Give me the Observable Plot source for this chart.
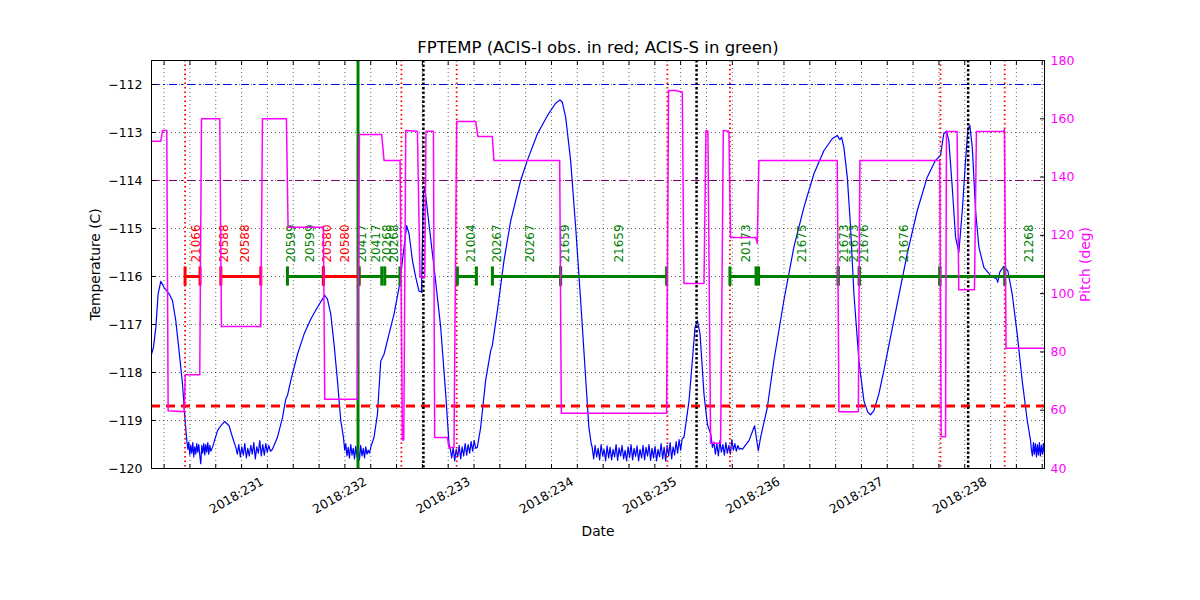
<!DOCTYPE html>
<html><head><meta charset="utf-8">
<script src="https://cdn.jsdelivr.net/npm/d3@7"></script>
<script src="https://cdn.jsdelivr.net/npm/@observablehq/plot@0.6"></script>
<style>body{margin:0;background:#fff}</style>
</head><body><div id="chart"></div>
<script>
// ---- data ----
const fptemp = [
[229.878,-117.62],[229.897,-117.48],[229.920,-117.06],[229.942,-116.36],[229.968,-116.10],[230.000,-116.23],[230.048,-116.36],[230.081,-116.50],[230.113,-116.92],[230.145,-117.55],[230.178,-118.24],[230.203,-119.00],[230.220,-119.42],
[230.230,-119.60],[230.239,-119.45],[230.249,-119.72],[230.258,-119.52],[230.268,-119.68],[230.278,-119.46],[230.287,-119.76],[230.297,-119.55],[230.307,-119.70],[230.316,-119.48],[230.326,-119.66],[230.336,-119.50],[230.346,-119.74],[230.355,-119.90],[230.365,-119.52],[230.374,-119.68],[230.384,-119.48],[230.394,-119.72],[230.403,-119.50],[230.413,-119.66],[230.423,-119.46],[230.432,-119.70],[230.442,-119.52],[230.452,-119.64],
[230.468,-119.56],[230.517,-119.21],[230.549,-119.11],[230.587,-119.02],[230.629,-119.11],[230.662,-119.35],[230.694,-119.56],
[230.709,-119.70],[230.723,-119.50],[230.738,-119.76],[230.752,-119.55],[230.767,-119.72],[230.781,-119.48],[230.796,-119.78],[230.810,-119.58],[230.825,-119.74],[230.839,-119.52],[230.854,-119.70],[230.868,-119.46],[230.883,-119.80],[230.897,-119.55],[230.912,-119.68],[230.926,-119.42],[230.941,-119.74],[230.955,-119.50],[230.970,-119.72],[230.984,-119.48],[230.999,-119.66],[231.013,-119.52],[231.030,-119.64],
[231.049,-119.60],[231.097,-119.35],[231.146,-118.94],[231.178,-118.55],[231.194,-118.48],[231.226,-118.17],[231.291,-117.62],[231.355,-117.20],[231.419,-116.89],[231.484,-116.64],[231.533,-116.47],[231.555,-116.39],[231.581,-116.47],[231.613,-116.78],[231.645,-117.41],[231.678,-118.17],[231.710,-119.00],[231.736,-119.35],
[231.748,-119.62],[231.758,-119.48],[231.770,-119.74],[231.782,-119.56],[231.794,-119.78],[231.807,-119.50],[231.819,-119.72],[231.831,-119.58],[231.843,-119.80],[231.855,-119.54],[231.867,-119.76],[231.879,-119.60],[231.891,-119.82],[231.903,-119.52],[231.916,-119.74],[231.928,-119.58],[231.940,-119.78],[231.952,-119.55],[231.964,-119.70],[231.976,-119.62],[231.988,-119.68],
[232.000,-119.56],[232.032,-119.35],[232.065,-118.87],[232.097,-117.76],[232.129,-117.62],[232.177,-117.20],[232.226,-116.78],[232.274,-116.23],[232.307,-115.67],[232.348,-114.94],[232.371,-115.11],[232.404,-115.67],[232.436,-116.02],[232.467,-116.30],[232.491,-116.33],[232.510,-114.28],[232.523,-114.14],[232.549,-114.63],[232.613,-115.81],[232.677,-117.05],[232.726,-118.45],[232.758,-119.49],
[232.772,-119.62],[232.784,-119.78],[232.798,-119.56],[232.813,-119.84],[232.827,-119.60],[232.842,-119.76],[232.856,-119.52],[232.871,-119.80],[232.885,-119.55],[232.900,-119.74],[232.914,-119.48],[232.929,-119.72],[232.943,-119.50],[232.958,-119.68],[232.972,-119.44],[232.987,-119.64],[233.001,-119.42],[233.016,-119.58],
[233.032,-119.56],[233.064,-119.15],[233.112,-118.17],[233.161,-117.55],[233.177,-117.44],[233.226,-116.71],[233.290,-115.67],[233.355,-114.84],[233.451,-114.00],[233.516,-113.58],[233.613,-113.03],[233.710,-112.65],[233.790,-112.39],[233.832,-112.32],[233.855,-112.37],[233.887,-112.68],[233.935,-113.58],[233.984,-114.98],[234.032,-116.50],[234.080,-118.10],[234.112,-119.15],[234.135,-119.49],
[234.143,-119.55],[234.158,-119.80],[234.172,-119.52],[234.187,-119.76],[234.201,-119.58],[234.216,-119.82],[234.230,-119.50],[234.245,-119.74],[234.259,-119.60],[234.274,-119.84],[234.288,-119.53],[234.303,-119.78],[234.317,-119.56],[234.332,-119.82],[234.346,-119.60],[234.361,-119.76],[234.375,-119.50],[234.390,-119.83],[234.404,-119.57],[234.419,-119.74],[234.433,-119.52],[234.448,-119.80],[234.462,-119.62],[234.477,-119.84],[234.491,-119.55],[234.506,-119.77],[234.520,-119.50],[234.535,-119.82],[234.549,-119.58],[234.564,-119.75],[234.578,-119.53],[234.593,-119.84],[234.607,-119.60],[234.622,-119.78],[234.636,-119.52],[234.651,-119.82],[234.665,-119.56],[234.680,-119.74],[234.694,-119.50],[234.709,-119.83],[234.723,-119.58],[234.738,-119.78],[234.752,-119.54],[234.767,-119.84],[234.781,-119.60],[234.796,-119.76],[234.811,-119.48],[234.826,-119.80],[234.840,-119.56],[234.855,-119.84],[234.869,-119.52],[234.884,-119.74],[234.898,-119.46],[234.913,-119.80],[234.927,-119.55],[234.942,-119.72],[234.956,-119.44],[234.971,-119.68],[234.985,-119.40],[235.000,-119.62],[235.015,-119.38],
[235.032,-119.35],[235.081,-118.59],[235.113,-117.76],[235.139,-117.06],[235.162,-116.92],[235.188,-117.20],[235.226,-118.45],[235.259,-119.08],[235.291,-119.28],[235.308,-119.56],
[235.322,-119.45],[235.336,-119.70],[235.351,-119.48],[235.365,-119.74],[235.380,-119.42],[235.394,-119.66],[235.409,-119.50],[235.423,-119.72],[235.438,-119.46],[235.452,-119.68],[235.467,-119.52],[235.481,-119.70],[235.496,-119.40],[235.510,-119.62],[235.525,-119.48],[235.539,-119.64],[235.554,-119.52],[235.568,-119.60],[235.583,-119.58],
[235.597,-119.60],[235.661,-119.42],[235.716,-119.11],[235.742,-119.49],[235.752,-119.63],[235.774,-119.35],[235.839,-118.73],[235.902,-117.76],[235.999,-116.50],[236.096,-115.39],[236.193,-114.56],[236.290,-113.86],[236.386,-113.38],[236.467,-113.13],[236.516,-113.06],[236.541,-113.15],[236.558,-113.10],[236.580,-113.31],[236.613,-113.93],[236.645,-114.98],[236.677,-116.36],[236.726,-117.76],[236.774,-118.59],[236.812,-118.83],[236.838,-118.88],[236.870,-118.80],[236.918,-118.45],[236.967,-117.96],[237.031,-117.27],[237.096,-116.57],[237.193,-115.53],[237.290,-114.63],[237.387,-113.93],[237.467,-113.58],[237.515,-113.48],[237.547,-113.03],[237.573,-112.97],[237.596,-113.17],[237.629,-114.14],[237.661,-115.18],[237.693,-115.50],[237.726,-114.63],[237.758,-113.58],[237.780,-112.96],[237.799,-112.85],[237.823,-113.31],[237.855,-114.63],[237.887,-115.39],[237.935,-115.81],[238.000,-115.98],[238.058,-116.05],[238.070,-116.12],[238.089,-115.91],[238.128,-115.79],[238.167,-115.88],[238.209,-116.36],[238.258,-117.20],[238.306,-118.17],[238.355,-119.00],[238.387,-119.42],
[238.396,-119.62],[238.405,-119.74],[238.415,-119.46],[238.424,-119.70],[238.434,-119.48],[238.444,-119.76],[238.453,-119.50],[238.463,-119.72],[238.473,-119.46],[238.482,-119.74],[238.492,-119.52],[238.502,-119.70],[238.512,-119.48],[238.522,-119.72]
];

const pitch = [
[229.878,152.3],[229.968,152.3],[229.985,156.0],[230.026,156.0],[230.039,59.8],[230.194,59.5],[230.205,72.2],[230.345,72.2],[230.362,160.0],[230.539,160.0],[230.555,88.7],[230.936,88.7],[230.952,160.0],[231.184,160.0],[231.200,122.8],[231.542,122.8],[231.555,63.8],[231.871,63.8],[231.891,154.6],[232.106,154.6],[232.129,145.7],[232.284,145.7],[232.307,49.8],[232.320,49.8],[232.339,156.0],[232.452,155.7],[232.477,105.6],[232.523,105.6],[232.535,155.7],[232.607,155.7],[232.619,50.6],[232.742,50.6],[232.758,47.2],[232.806,47.2],[232.832,159.1],[233.016,159.1],[233.038,153.9],[233.177,153.9],[233.193,145.7],[233.829,145.7],[233.845,59.0],[234.864,59.0],[234.883,169.7],[234.950,169.7],[235.016,169.2],[235.032,103.5],[235.226,103.5],[235.245,156.0],[235.264,155.7],[235.290,48.7],[235.387,48.7],[235.413,156.0],[235.467,155.7],[235.483,119.3],[235.725,119.3],[235.742,117.3],[235.757,145.7],[236.516,145.7],[236.532,59.5],[236.720,59.5],[236.735,145.7],[237.508,145.7],[237.522,50.9],[237.564,50.9],[237.573,155.6],[237.676,155.6],[237.692,101.3],[237.844,101.3],[237.863,155.6],[238.121,155.6],[238.134,156.3],[238.150,81.3],[238.522,81.3]
];

// observations: obsid, start, stop, instrument (I = red, S = green)
const obsIds   = ["21066","20588","20599","20580","20417","20268","21004","20267","21659","20173","21675","21673","21676","21268"];
const obsStart = [230.203,230.549,231.194,231.542,231.887,232.136,232.839,233.178,233.838,235.477,235.754,236.525,236.729,237.509];
const obsStop  = [230.348,230.936,231.542,231.887,232.107,232.283,233.023,233.838,234.864,235.730,236.525,236.729,237.509,238.75];
const obsInstr = ["I","I","S","I","S","S","S","S","S","S","S","S","S","S"];
const extraMarks = [238.137]; // segment break inside last ACIS-S interval

// obsid labels (x position in day, obsid, instrument)
const labelDay   = [230.307,230.581,230.781,231.233,231.410,231.581,231.748,231.920,232.048,232.155,232.225,232.968,233.226,233.548,233.880,234.403,235.638,236.177,236.580,236.676,236.773,237.160,238.370];
const labelText  = ["21066","20588","20588","20599","20599","20580","20580","20417","20417","20268","20268","21004","20267","20267","21659","21659","20173","21675","21673","21673","21676","21676","21268"];
const labelInstr = ["I","I","I","S","S","I","I","S","S","S","S","S","S","S","S","S","S","S","S","S","S","S","S"];

const radZone   = [230.203,232.297,232.832,234.871,235.477,237.515,238.137]; // red dotted
const perigee   = [232.510,235.154,237.783];                                 // black dotted
const nowLine   = [231.877];                                                  // green solid

const planLimit = -112.0, acisLimit = -114.0, coldLimit = -118.7, obsLevel = -116.0;

const tempTicks  = [-120,-119,-118,-117,-116,-115,-114,-113,-112];
const pitchTicks = [40,60,80,100,120,140,160,180];
const dayTicks   = [231,232,233,234,235,236,237,238];
const quarterTicks = [];
for (let d = 230; d <= 238.5; d += 0.25) quarterTicks.push(d);

const xDomain = [229.878, 238.522];
const tDomain = [-120, -111.5];
const pDomain = [40, 180];
const toT = p => tDomain[0] + (p - pDomain[0]) * (tDomain[1] - tDomain[0]) / (pDomain[1] - pDomain[0]);
const fromT = t => pDomain[0] + (t - tDomain[0]) * (pDomain[1] - pDomain[0]) / (tDomain[1] - tDomain[0]);

const colI = "#ff0000", colS = "#008000", magenta = "#ff00ff";
const obs = obsIds.map((id, i) => ({id, start: obsStart[i], stop: obsStop[i], color: obsInstr[i] === "I" ? colI : colS}));
const marks = [];
obs.forEach(o => { marks.push({x: o.start, color: o.color}); marks.push({x: o.stop, color: o.color}); });
extraMarks.forEach(x => marks.push({x, color: colS}));
const labels = labelDay.map((d, i) => ({x: d, text: labelText[i], color: labelInstr[i] === "I" ? colI : colS}));
const minus = d => d < 0 ? "\u2212" + Math.abs(d) : String(d);

const chart = Plot.plot({
  width: 1200, height: 600,
  marginLeft: 151, marginRight: 156, marginTop: 60, marginBottom: 132,
  style: {fontFamily: "'DejaVu Sans', sans-serif", fontSize: "12.5px", background: "white", color: "black"},
  x: {domain: xDomain, label: null},
  y: {domain: tDomain, label: null},
  marks: [
    Plot.gridY(tempTicks, {stroke: "black", strokeOpacity: 0.75, strokeDasharray: "1,3", strokeWidth: 0.8}),
    Plot.gridX(quarterTicks, {stroke: "black", strokeOpacity: 0.75, strokeDasharray: "1,3", strokeWidth: 0.8}),
    Plot.line(fptemp, {x: d => d[0], y: d => d[1], stroke: "#0000ff", strokeWidth: 1.2}),
    Plot.ruleY([planLimit], {stroke: "#0000ff", strokeWidth: 1.2, strokeDasharray: "8,4,2,4"}),
    Plot.ruleY([acisLimit], {stroke: "#800080", strokeWidth: 1.2, strokeDasharray: "8,4,2,4"}),
    Plot.ruleY([coldLimit], {stroke: "#ff0000", strokeWidth: 3, strokeDasharray: "9,6"}),
    Plot.ruleX(radZone, {stroke: "#ff0000", strokeWidth: 1.8, strokeDasharray: "1.5,3"}),
    Plot.ruleX(perigee, {stroke: "black", strokeWidth: 2.5, strokeDasharray: "2.5,2"}),
    Plot.ruleX(nowLine, {stroke: "#008000", strokeWidth: 3}),
    Plot.ruleY(obs, {y: obsLevel, x1: "start", x2: "stop", stroke: "color", strokeWidth: 3, clip: true}),
    Plot.ruleX(marks, {x: "x", y1: obsLevel - 0.2, y2: obsLevel + 0.2, stroke: "color", strokeWidth: 3, clip: true}),
    Plot.text(labels, {x: "x", y: obsLevel + 0.29, text: "text", fill: "color", rotate: -90, textAnchor: "start", fontSize: 12}),
    Plot.line(pitch, {x: d => d[0], y: d => toT(d[1]), stroke: magenta, strokeWidth: 1.5}),
    Plot.frame({stroke: "black", strokeWidth: 1}),
    Plot.axisY(tempTicks, {anchor: "left", tickSize: -5, tickFormat: minus, label: null}),
    Plot.axisY(pitchTicks.map(toT), {anchor: "right", tickSize: -5, tickPadding: 11, tickFormat: t => String(Math.round(fromT(t))), fill: magenta, stroke: "black", label: null}),
    Plot.axisX(quarterTicks, {anchor: "bottom", tickSize: -4, tickFormat: () => "", label: null}),
    Plot.axisX(quarterTicks, {anchor: "top", tickSize: -4, tickFormat: () => "", label: null}),
    Plot.axisX(dayTicks, {anchor: "bottom", tickSize: 0, tickPadding: 12, dx: -5, tickRotate: -30, tickFormat: d => "2018:" + d, label: null, fontSize: 12.5}),
    Plot.text(["FPTEMP (ACIS-I obs. in red; ACIS-S in green)"], {text: d => d, frameAnchor: "top", dy: -13, lineAnchor: "middle", textAnchor: "middle", fontSize: 16.5}),
    Plot.text(["Date"], {text: d => d, frameAnchor: "bottom", dy: 63, lineAnchor: "middle", textAnchor: "middle", fontSize: 13.8}),
    Plot.text(["Temperature (C)"], {text: d => d, frameAnchor: "left", dx: -56, rotate: -90, lineAnchor: "middle", textAnchor: "middle", fontSize: 13.8}),
    Plot.text(["Pitch (deg)"], {text: d => d, frameAnchor: "right", dx: 41, rotate: -90, lineAnchor: "middle", textAnchor: "middle", fontSize: 13.8, fill: magenta})
  ]
});
document.getElementById("chart").appendChild(chart);
</script>
</body></html>
